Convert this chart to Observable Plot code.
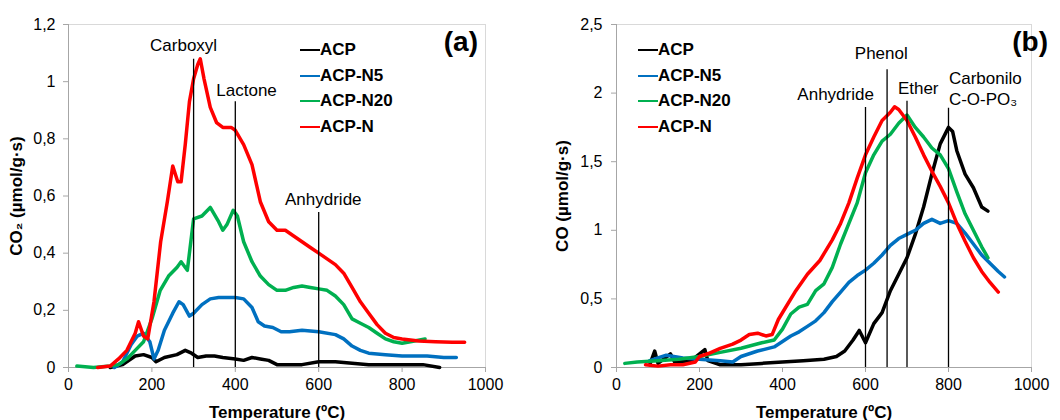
<!DOCTYPE html>
<html>
<head>
<meta charset="utf-8">
<script src="https://cdn.jsdelivr.net/npm/d3@7"></script>
<script src="https://cdn.jsdelivr.net/npm/@observablehq/plot@0.6"></script>
<style>
  html, body { margin: 0; padding: 0; background: #fff; }
  body { width: 1060px; height: 420px; overflow: hidden; font-family: "Liberation Sans", Arial, sans-serif; }
  #wrap { display: flex; width: 1060px; height: 420px; }
  .panel { position: relative; width: 530px; height: 420px; }
  .panel svg { display: block; }
  .panel svg [aria-label$="axis label"] text { font-weight: bold; font-size: 17px; }
  .legend { position: absolute; font-weight: bold; font-size: 17px; color: #000; }
  .legend .row { position: absolute; white-space: nowrap; height: 20px; line-height: 20px; }
  .legend .sw { position: absolute; top: 9px; height: 2px; width: 20px; }
  .legend .lb { position: absolute; left: 20px; top: 0; }
  .tag { position: absolute; font-weight: bold; font-size: 28px; line-height: 28px; }
</style>
</head>
<body>
<div id="wrap">
  <div class="panel" id="pa"></div>
  <div class="panel" id="pb"></div>
</div>
<script>
// ---------- data ----------
const seriesNames = ["ACP", "ACP-N5", "ACP-N20", "ACP-N"];
const seriesColors = ["#000000", "#0070c0", "#00b050", "#ff0000"];

const xTicks = [0, 200, 400, 600, 800, 1000];
const yTicksA = [0, 0.2, 0.4, 0.6, 0.8, 1, 1.2];
const yTicksB = [0, 0.5, 1, 1.5, 2, 2.5];

// Panel (a): CO2 (µmol/g·s) vs temperature (ºC)
const co2_ACP = [[100,0],[130,0.01],[160,0.04],[180,0.045],[200,0.035],[210,0.02],[230,0.035],[260,0.045],[280,0.06],[295,0.05],[310,0.035],[330,0.04],[350,0.04],[370,0.035],[400,0.03],[420,0.025],[440,0.035],[460,0.03],[480,0.025],[500,0.01],[520,0.01],[560,0.01],[600,0.02],[640,0.02],[680,0.015],[720,0.01],[760,0.01],[800,0.01],[850,0.01],[890,0.0]];
const co2_N5 = [[110,0],[130,0.02],[150,0.08],[165,0.11],[180,0.12],[195,0.09],[205,0.03],[215,0.06],[230,0.13],[250,0.19],[265,0.23],[275,0.22],[290,0.18],[300,0.19],[320,0.22],[340,0.24],[360,0.245],[380,0.245],[400,0.245],[420,0.24],[440,0.21],[455,0.16],[470,0.145],[490,0.14],[510,0.125],[530,0.125],[560,0.13],[600,0.125],[640,0.115],[660,0.1],[680,0.075],[700,0.06],[720,0.05],[760,0.045],[800,0.04],[860,0.04],[900,0.035],[930,0.035]];
const co2_N20 = [[20,0.005],[60,0],[100,0.005],[120,0.01],[140,0.03],[160,0.06],[180,0.09],[200,0.17],[220,0.27],[240,0.32],[260,0.35],[270,0.37],[285,0.34],[300,0.52],[320,0.53],[340,0.56],[360,0.51],[370,0.48],[380,0.5],[395,0.55],[405,0.53],[420,0.44],[440,0.37],[460,0.32],[480,0.29],[500,0.27],[520,0.27],[540,0.28],[560,0.285],[580,0.28],[600,0.275],[620,0.27],[640,0.25],[660,0.22],[680,0.17],[700,0.155],[720,0.14],[740,0.12],[760,0.1],[780,0.09],[800,0.085],[820,0.09],[855,0.1]];
const co2_N = [[70,0],[100,0.005],[120,0.03],[140,0.06],[160,0.12],[168,0.16],[180,0.11],[190,0.1],[205,0.23],[221,0.44],[237,0.58],[250,0.705],[262,0.65],[270,0.65],[280,0.78],[290,0.93],[300,1.01],[310,1.06],[316,1.08],[325,1.01],[340,0.91],[355,0.857],[370,0.84],[390,0.84],[400,0.83],[420,0.78],[440,0.71],[460,0.58],[480,0.51],[500,0.48],[520,0.48],[540,0.46],[560,0.44],[580,0.42],[600,0.4],[620,0.38],[640,0.36],[660,0.33],[680,0.28],[700,0.23],[720,0.19],[740,0.15],[760,0.12],[780,0.105],[800,0.1],[840,0.093],[880,0.09],[920,0.088],[950,0.088]];

// Panel (b): CO (µmol/g·s) vs temperature (ºC)
const co_ACP = [[80,0.02],[92,0.12],[100,0.03],[130,0.1],[140,0.04],[180,0.05],[213,0.13],[220,0.05],[250,0.02],[300,0.02],[350,0.03],[400,0.04],[450,0.05],[500,0.06],[530,0.08],[550,0.12],[570,0.2],[585,0.27],[600,0.18],[620,0.32],[640,0.4],[660,0.56],[680,0.68],[700,0.8],[720,0.97],[740,1.17],[760,1.41],[780,1.63],[800,1.75],[810,1.72],[820,1.58],[840,1.41],[860,1.31],[880,1.17],[895,1.14]];
const co_N5 = [[80,0.05],[120,0.09],[160,0.07],[200,0.06],[250,0.05],[280,0.04],[300,0.08],[340,0.12],[380,0.15],[400,0.19],[420,0.23],[440,0.26],[460,0.3],[480,0.34],[500,0.4],[520,0.48],[540,0.55],[560,0.62],[580,0.67],[600,0.71],[620,0.76],[640,0.82],[660,0.89],[680,0.94],[700,0.97],[720,1.0],[740,1.05],[760,1.08],[780,1.05],[800,1.07],[820,1.05],[840,0.98],[860,0.9],[880,0.82],[900,0.76],[920,0.7],[935,0.66]];
const co_N20 = [[20,0.03],[50,0.04],[100,0.05],[150,0.06],[200,0.08],[250,0.11],[300,0.14],[350,0.18],[380,0.2],[400,0.28],[420,0.39],[440,0.44],[460,0.46],[480,0.56],[500,0.61],[520,0.73],[540,0.9],[560,1.05],[580,1.2],[600,1.42],[620,1.55],[640,1.65],[660,1.7],[680,1.78],[700,1.84],[720,1.75],[740,1.68],[760,1.6],[780,1.55],[800,1.45],[820,1.28],[840,1.12],[860,1.0],[880,0.88],[895,0.8]];
const co_N = [[70,0.02],[100,0.01],[130,0.02],[160,0.02],[190,0.04],[200,0.08],[220,0.1],[250,0.14],[280,0.17],[300,0.2],[320,0.24],[340,0.25],[360,0.23],[375,0.24],[390,0.35],[410,0.45],[430,0.55],[460,0.68],[490,0.78],[520,0.93],[540,1.05],[560,1.2],[580,1.38],[600,1.55],[620,1.68],[640,1.8],[660,1.86],[670,1.9],[680,1.88],[700,1.8],[720,1.68],[740,1.55],[760,1.43],[780,1.32],[800,1.2],[820,1.05],[840,0.92],[860,0.8],[880,0.7],[900,0.62],[920,0.55]];

// Annotations: marker line (x, top), label (text, tx, ty, anchor)
const annA = [
  {x: 300, top: 1.078, text: "Carboxyl", tx: 276, ty: 1.126, anchor: "middle"},
  {x: 400, top: 0.93, text: "Lactone", tx: 427, ty: 0.969, anchor: "middle"},
  {x: 600, top: 0.542, text: "Anhydride", tx: 611, ty: 0.587, anchor: "middle"}
];
const annB = [
  {x: 600, top: 1.895, text: "Anhydride", tx: 528, ty: 1.99, anchor: "middle"},
  {x: 652, top: 2.17, text: "Phenol", tx: 638, ty: 2.29, anchor: "middle"},
  {x: 700, top: 1.94, text: "Ether", tx: 727, ty: 2.03, anchor: "middle"},
  {x: 800, top: 1.89, text: "Carbonilo\nC-O-PO₃", tx: 801, ty: 2.037, anchor: "start"}
];

// ---------- drawing ----------
const fmt = d => String(d).replace(".", ",");
const toRows = (arr, name) => arr.map(([t, v]) => ({t, v, name}));

function panel({el, series, yDomain, yTicks, yLabel, ann, ml, mr, labelOffY, tickPadY, legendLeft, tag, tagRight}) {
  const rows = series.flatMap((s, i) => toRows(s, seriesNames[i]));
  const marks = [
    Plot.frame({stroke: "#d9d9d9"}),
    Plot.ruleX([0], {stroke: "#a6a6a6"}),
    Plot.ruleY([0], {stroke: "#a6a6a6"}),
    Plot.axisX({ticks: xTicks, tickSize: 5, tickPadding: 6, tickFormat: fmt, fontSize: 16, stroke: "#a6a6a6",
      label: "Temperature (ºC)", labelAnchor: "center", labelArrow: "none", labelOffset: 50}),
    Plot.axisY({ticks: yTicks, tickSize: 5, tickPadding: tickPadY, tickFormat: fmt, fontSize: 16, stroke: "#a6a6a6",
      label: yLabel, labelAnchor: "center", labelArrow: "none", labelOffset: labelOffY}),
    Plot.line(rows, {x: "t", y: "v", z: "name", stroke: "name", strokeWidth: 3.5, strokeLinejoin: "round"}),
    Plot.ruleX(ann, {x: "x", y1: 0, y2: "top", stroke: "#000", strokeWidth: 1.3}),
    Plot.text(ann.filter(d => d.anchor === "middle"), {x: "tx", y: "ty", text: "text", textAnchor: "middle", fontSize: 17, fill: "#000"}),
    Plot.text(ann.filter(d => d.anchor === "start"), {x: "tx", y: "ty", text: "text", textAnchor: "start", fontSize: 17, fill: "#000", lineHeight: 1.22})
  ];
  const chart = Plot.plot({
    width: 530, height: 420,
    marginLeft: ml, marginRight: mr, marginTop: 24, marginBottom: 53,
    style: {fontFamily: '"Liberation Sans", Arial, sans-serif', color: "#000", background: "#fff", overflow: "visible"},
    x: {domain: [0, 1000]},
    y: {domain: yDomain},
    color: {domain: seriesNames, range: seriesColors},
    marks
  });
  el.appendChild(chart);

  const lg = document.createElement("div");
  lg.className = "legend";
  lg.style.left = legendLeft + "px";
  lg.style.top = "40px";
  seriesNames.forEach((n, i) => {
    const r = document.createElement("div");
    r.className = "row";
    r.style.top = (i * 25.5) + "px";
    r.innerHTML = `<span class="sw" style="background:${seriesColors[i]}"></span><span class="lb">${n}</span>`;
    lg.appendChild(r);
  });
  el.appendChild(lg);

  const t = document.createElement("div");
  t.className = "tag";
  t.textContent = tag;
  t.style.right = tagRight + "px";
  t.style.top = "28px";
  el.appendChild(t);
}

panel({el: document.getElementById("pa"), series: [co2_ACP, co2_N5, co2_N20, co2_N],
  yDomain: [0, 1.2], yTicks: yTicksA, yLabel: "CO₂ (µmol/g·s)", ann: annA,
  ml: 68, mr: 45, labelOffY: 59, tickPadY: 8, legendLeft: 300, tag: "(a)", tagRight: 52});

panel({el: document.getElementById("pb"), series: [co_ACP, co_N5, co_N20, co_N],
  yDomain: [0, 2.5], yTicks: yTicksB, yLabel: "CO (µmol/g·s)", ann: annB,
  ml: 86, mr: 29, labelOffY: 61, tickPadY: 9, legendLeft: 108, tag: "(b)", tagRight: 12});
</script>
</body>
</html>
